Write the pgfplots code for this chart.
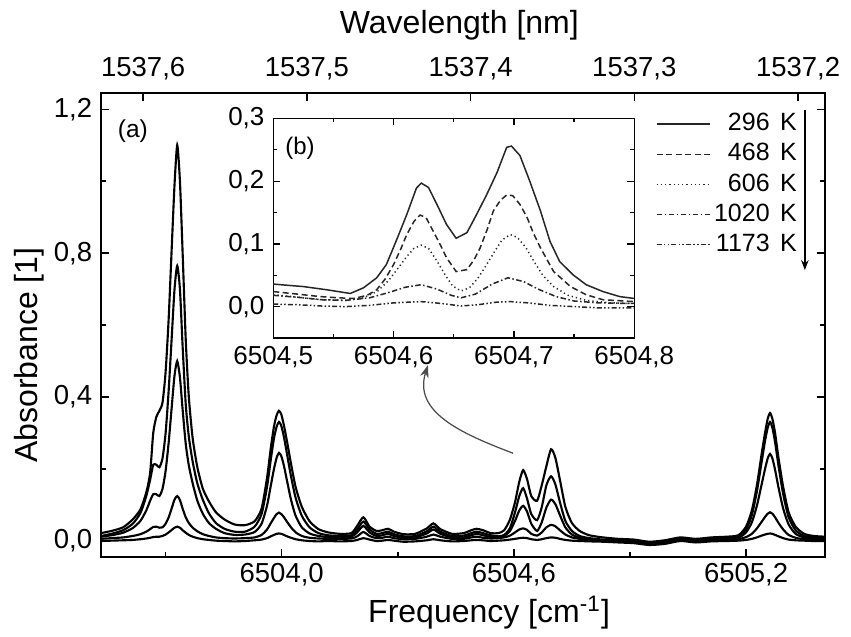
\documentclass[border=0pt]{standalone}
\usepackage{fontspec}
\setmainfont{Liberation Sans}
\usepackage{pgfplots}
\usepackage{pgfplotstable}
\pgfplotsset{compat=1.18}
\usetikzlibrary{arrows.meta}

% absorbance spectra, columns: 296 K, 468 K, 606 K, 1020 K, 1173 K
\pgfplotstableread{
nu A B C D E
6503.533 0.022 0.014 0.012 0.006 0.000
6503.560 0.028 0.020 0.016 0.008 0.001
6503.590 0.038 0.030 0.023 0.010 0.002
6503.615 0.060 0.048 0.036 0.014 0.003
6503.635 0.088 0.078 0.056 0.019 0.005
6503.650 0.135 0.125 0.085 0.026 0.007
6503.660 0.190 0.170 0.112 0.033 0.009
6503.668 0.300 0.212 0.130 0.039 0.011
6503.676 0.345 0.212 0.130 0.040 0.012
6503.684 0.362 0.205 0.125 0.037 0.012
6503.692 0.385 0.230 0.145 0.038 0.014
6503.700 0.470 0.300 0.195 0.048 0.018
6503.708 0.620 0.420 0.275 0.066 0.024
6503.716 0.820 0.570 0.375 0.092 0.031
6503.723 0.990 0.700 0.460 0.115 0.037
6503.730 1.100 0.765 0.500 0.125 0.040
6503.737 1.000 0.700 0.455 0.114 0.037
6503.744 0.800 0.540 0.365 0.090 0.030
6503.752 0.560 0.380 0.270 0.066 0.023
6503.760 0.400 0.290 0.210 0.050 0.017
6503.770 0.285 0.220 0.160 0.037 0.012
6503.782 0.205 0.160 0.112 0.027 0.008
6503.796 0.146 0.115 0.076 0.019 0.005
6503.812 0.110 0.077 0.050 0.014 0.003
6503.830 0.080 0.050 0.034 0.010 0.001
6503.852 0.060 0.034 0.022 0.008 0.000
6503.878 0.046 0.026 0.017 0.007 -0.001
6503.905 0.044 0.026 0.018 0.008 0.000
6503.930 0.055 0.040 0.025 0.010 0.002
6503.948 0.090 0.075 0.048 0.017 0.004
6503.962 0.175 0.150 0.098 0.032 0.008
6503.972 0.260 0.228 0.155 0.050 0.013
6503.980 0.318 0.285 0.200 0.064 0.017
6503.987 0.350 0.318 0.232 0.075 0.020
6503.993 0.362 0.331 0.245 0.079 0.021
6503.999 0.352 0.320 0.236 0.075 0.020
6504.006 0.320 0.288 0.208 0.066 0.017
6504.014 0.275 0.240 0.166 0.053 0.013
6504.024 0.215 0.180 0.115 0.038 0.009
6504.036 0.150 0.120 0.070 0.024 0.005
6504.052 0.095 0.070 0.038 0.014 0.002
6504.072 0.055 0.038 0.021 0.009 0.000
6504.095 0.033 0.022 0.014 0.007 -0.001
6504.120 0.024 0.016 0.011 0.006 0.000
6504.150 0.020 0.014 0.010 0.006 -0.001
6504.180 0.022 0.016 0.012 0.007 0.000
6504.195 0.042 0.032 0.024 0.013 0.003
6504.211 0.066 0.054 0.042 0.025 0.008
6504.227 0.040 0.032 0.024 0.014 0.004
6504.245 0.028 0.020 0.014 0.008 0.000
6504.260 0.030 0.022 0.016 0.009 0.001
6504.275 0.034 0.026 0.020 0.012 0.003
6504.290 0.026 0.019 0.014 0.008 0.001
6504.315 0.019 0.013 0.009 0.005 -0.002
6504.345 0.020 0.014 0.010 0.006 -0.001
6504.375 0.035 0.027 0.021 0.012 0.002
6504.392 0.049 0.040 0.032 0.018 0.005
6504.410 0.033 0.026 0.020 0.012 0.002
6504.440 0.020 0.014 0.010 0.006 -0.001
6504.470 0.022 0.015 0.010 0.006 0.000
6504.490 0.030 0.022 0.016 0.010 0.002
6504.504 0.034 0.026 0.020 0.012 0.003
6504.520 0.030 0.022 0.016 0.009 0.002
6504.540 0.022 0.016 0.011 0.007 0.000
6504.560 0.022 0.013 0.010 0.008 0.001
6504.575 0.030 0.017 0.014 0.010 0.002
6504.590 0.060 0.036 0.028 0.015 0.004
6504.603 0.108 0.080 0.056 0.024 0.006
6504.614 0.165 0.125 0.085 0.032 0.008
6504.624 0.197 0.147 0.098 0.035 0.009
6504.634 0.172 0.118 0.082 0.031 0.008
6504.645 0.125 0.075 0.048 0.020 0.005
6504.660 0.112 0.058 0.028 0.015 0.003
6504.672 0.155 0.094 0.052 0.024 0.005
6504.684 0.208 0.155 0.093 0.038 0.008
6504.696 0.255 0.180 0.115 0.045 0.010
6504.707 0.232 0.158 0.103 0.041 0.009
6504.719 0.170 0.108 0.072 0.030 0.006
6504.733 0.095 0.056 0.038 0.018 0.003
6504.750 0.050 0.028 0.018 0.010 0.001
6504.770 0.028 0.014 0.009 0.006 0.000
6504.795 0.016 0.008 0.005 0.004 -0.001
6504.830 0.010 0.004 0.002 0.001 -0.002
6504.870 0.006 0.002 0.000 -0.002 -0.004
6504.910 0.004 0.000 -0.002 -0.004 -0.006
6504.950 -0.002 -0.005 -0.007 -0.009 -0.011
6504.990 0.002 -0.002 -0.004 -0.006 -0.008
6505.030 0.010 0.006 0.004 0.002 0.000
6505.070 0.006 0.002 0.000 -0.002 -0.004
6505.110 0.010 0.006 0.004 0.002 -0.001
6505.150 0.012 0.009 0.007 0.004 0.000
6505.180 0.016 0.012 0.009 0.005 0.001
6505.200 0.040 0.032 0.024 0.011 0.003
6505.215 0.085 0.072 0.052 0.020 0.006
6505.228 0.155 0.138 0.098 0.035 0.010
6505.240 0.240 0.218 0.156 0.053 0.015
6505.249 0.300 0.278 0.200 0.067 0.018
6505.256 0.340 0.315 0.230 0.076 0.020
6505.262 0.356 0.331 0.242 0.080 0.021
6505.268 0.340 0.315 0.230 0.076 0.020
6505.275 0.300 0.275 0.198 0.066 0.017
6505.284 0.230 0.208 0.148 0.050 0.013
6505.296 0.150 0.130 0.090 0.032 0.008
6505.310 0.080 0.066 0.046 0.017 0.004
6505.328 0.040 0.030 0.020 0.009 0.002
6505.350 0.020 0.014 0.010 0.005 0.001
6505.375 0.014 0.010 0.007 0.004 0.000
6505.404 0.012 0.008 0.006 0.004 0.000
}\mainspec

% inset (b), one table per temperature
\pgfplotstableread{
x y
6504.500 0.036
6504.512 0.034
6504.525 0.032
6504.544 0.027
6504.564 0.021
6504.575 0.030
6504.586 0.046
6504.594 0.067
6504.602 0.104
6504.611 0.147
6504.619 0.189
6504.623 0.197
6504.629 0.190
6504.636 0.163
6504.644 0.131
6504.652 0.109
6504.661 0.118
6504.669 0.147
6504.677 0.177
6504.686 0.214
6504.694 0.254
6504.698 0.256
6504.705 0.241
6504.713 0.201
6504.722 0.153
6504.730 0.104
6504.738 0.072
6504.749 0.051
6504.760 0.035
6504.774 0.024
6504.788 0.016
6504.800 0.013
}\insA
\pgfplotstableread{
x y
6504.500 0.024
6504.520 0.020
6504.539 0.016
6504.555 0.014
6504.567 0.013
6504.578 0.018
6504.586 0.027
6504.593 0.044
6504.600 0.067
6504.606 0.092
6504.611 0.115
6504.617 0.136
6504.622 0.146
6504.627 0.142
6504.633 0.120
6504.639 0.098
6504.644 0.078
6504.652 0.056
6504.661 0.059
6504.667 0.075
6504.672 0.094
6504.678 0.124
6504.683 0.153
6504.689 0.170
6504.694 0.178
6504.699 0.177
6504.705 0.163
6504.711 0.142
6504.716 0.118
6504.722 0.094
6504.733 0.056
6504.747 0.032
6504.760 0.019
6504.774 0.011
6504.800 0.008
}\insB
\pgfplotstableread{
x y
6504.500 0.019
6504.520 0.015
6504.540 0.011
6504.560 0.010
6504.575 0.014
6504.587 0.025
6504.596 0.042
6504.604 0.062
6504.611 0.080
6504.617 0.093
6504.623 0.098
6504.629 0.093
6504.636 0.073
6504.643 0.050
6504.649 0.033
6504.656 0.025
6504.663 0.030
6504.670 0.045
6504.677 0.066
6504.684 0.088
6504.690 0.106
6504.697 0.115
6504.703 0.110
6504.710 0.094
6504.717 0.071
6504.724 0.050
6504.733 0.032
6504.745 0.018
6504.760 0.010
6504.780 0.006
6504.800 0.005
}\insC
\pgfplotstableread{
x y
6504.500 0.018
6504.520 0.015
6504.540 0.011
6504.560 0.010
6504.580 0.014
6504.595 0.022
6504.610 0.031
6504.623 0.035
6504.636 0.028
6504.648 0.018
6504.656 0.014
6504.668 0.020
6504.682 0.036
6504.695 0.046
6504.708 0.040
6504.720 0.028
6504.735 0.016
6504.750 0.009
6504.770 0.006
6504.800 0.005
}\insD
\pgfplotstableread{
x y
6504.500 0.004
6504.520 0.003
6504.540 0.001
6504.560 0.000
6504.580 0.002
6504.600 0.006
6504.623 0.008
6504.640 0.005
6504.656 0.001
6504.670 0.003
6504.685 0.007
6504.697 0.008
6504.712 0.006
6504.730 0.002
6504.750 0.000
6504.770 -0.002
6504.800 -0.002
}\insE

\tikzset{
  dashA/.style={dash pattern=on 2.4pt off 1.4pt},
  dotA/.style={dash pattern=on 0.5pt off 1.2pt},
  dashdotA/.style={dash pattern=on 2.2pt off 1pt on 0.6pt off 1pt},
  dashdotdotA/.style={dash pattern=on 2pt off 0.9pt on 0.6pt off 0.9pt on 0.6pt off 0.9pt},
}

\begin{document}
\begin{tikzpicture}[font=\fontsize{11}{13}\selectfont]
% main panel (a)
\begin{axis}[
  name=main, scale only axis, width=289.6pt, height=185.6pt,
  xmin=6503.533, xmax=6505.404, ymin=-0.0444, ymax=1.2453,
  axis line style={line width=0.6pt},
  every tick/.style={black, line width=0.6pt},
  major tick length=3.2pt, minor tick length=2pt,
  tick align=inside, xtick pos=left, ytick pos=both,
  xtick={6504.0,6504.6,6505.2}, xticklabels={{6504,0},{6504,6},{6505,2}},
  minor xtick={6503.7,6504.3,6504.9},
  ytick={0,0.4,0.8,1.2}, yticklabels={{0,0},{0,4},{0,8},{1,2}},
  minor ytick={0.2,0.6,1.0},
  tick label style={font=\fontsize{11}{13}\selectfont},
  xticklabel style={yshift=1pt},
  xlabel={Frequency [cm\textsuperscript{-1}]}, ylabel={Absorbance [1]},
  every axis x label/.style={at={(ticklabel cs:0.536)}, anchor=near ticklabel, yshift=3pt, font=\fontsize{12.8}{15}\selectfont},
  every axis y label/.style={at={(ticklabel cs:0.435)}, anchor=near ticklabel, rotate=90, font=\fontsize{12.8}{15}\selectfont},
  ylabel shift=-3pt,
]
\addplot[black, line width=0.85pt, smooth, tension=0.4] table[x=nu, y=A] {\mainspec};
\addplot[black, line width=0.85pt, smooth, tension=0.4] table[x=nu, y=B] {\mainspec};
\addplot[black, line width=0.85pt, smooth, tension=0.4] table[x=nu, y=C] {\mainspec};
\addplot[black, line width=0.85pt, smooth, tension=0.4] table[x=nu, y=D] {\mainspec};
\addplot[black, line width=0.85pt, smooth, tension=0.4] table[x=nu, y=E] {\mainspec};
\node[font=\fontsize{9.8}{11}\selectfont] at (rel axis cs:0.044,0.918) {(a)};
% arrow from the doublet to the inset
\draw[gray!60!black, line width=0.5pt, -{Stealth[length=5pt,width=3.5pt]}]
  (axis cs:6504.598,0.244) .. controls (axis cs:6504.46,0.30) and (axis cs:6504.34,0.36) .. (axis cs:6504.378,0.489);
% temperature arrow beside the legend
\draw[line width=0.5pt, -{Stealth[length=4pt,width=3pt]}] (axis cs:6505.352,1.197) -- (axis cs:6505.352,0.753);
\coordinate (bbsw) at (rel axis cs:-0.1395,-0.1724);
\coordinate (bbne) at (rel axis cs:1.0359,1.2004);
\end{axis}

% wavelength scale on top
\begin{axis}[
  at={(main.south west)}, anchor=south west,
  scale only axis, width=289.6pt, height=185.6pt,
  xmin=6503.533, xmax=6505.404, ymin=-0.0444, ymax=1.2453,
  axis x line*=top, axis y line=none,
  axis line style={line width=0.6pt},
  every tick/.style={black, line width=0.6pt},
  major tick length=3.2pt, tick align=inside,
  xtick={6503.642,6504.065,6504.4881,6504.9112,6505.3344},
  xticklabels={{1537,6},{1537,5},{1537,4},{1537,3},{1537,2}},
  tick label style={font=\fontsize{11}{13}\selectfont},
  xticklabel style={yshift=1.5pt},
  xlabel={Wavelength [nm]},
  every axis x label/.style={at={(ticklabel cs:0.495)}, anchor=near ticklabel, yshift=0pt, font=\fontsize{12.8}{15}\selectfont},
]
\end{axis}

% inset (b)
\begin{axis}[
  name=inset, at={(main.north west)}, anchor=north west, xshift=68.9pt, yshift=-10.2pt,
  scale only axis, width=144.4pt, height=87.8pt,
  xmin=6504.5, xmax=6504.8, ymin=-0.05, ymax=0.3,
  axis background/.style={fill=white},
  axis line style={line width=0.5pt},
  every tick/.style={black, line width=0.5pt},
  major tick length=2.8pt, minor tick length=1.6pt, tick align=inside,
  xtick={6504.5,6504.6,6504.7,6504.8}, xticklabels={{6504,5},{6504,6},{6504,7},{6504,8}},
  ytick={0,0.1,0.2,0.3}, yticklabels={{0,0},{0,1},{0,2},{0,3}},
  minor x tick num=1, minor y tick num=1,
  tick label style={font=\fontsize{10.4}{12}\selectfont},
  legend style={at={(axis description cs:1.038,1.06)}, anchor=north west, draw=none, fill=none,
    font=\fontsize{10}{11}\selectfont, row sep=1.6pt, column sep=2pt, nodes={inner sep=1pt}},
  legend cell align=left,
  legend image code/.code={\draw[#1, line width=0.5pt] (0pt,0pt) -- (21.5pt,0pt);},
]
\addplot[black!85, line width=0.6pt] table[x=x, y=y] {\insA};
\addlegendentry{\makebox[20.5pt][r]{296}\hspace{4.2pt}K}
\addplot[black!85, line width=0.6pt, dashA] table[x=x, y=y] {\insB};
\addlegendentry{\makebox[20.5pt][r]{468}\hspace{4.2pt}K}
\addplot[black!85, line width=0.6pt, dotA] table[x=x, y=y] {\insC};
\addlegendentry{\makebox[20.5pt][r]{606}\hspace{4.2pt}K}
\addplot[black!85, line width=0.6pt, dashdotA] table[x=x, y=y] {\insD};
\addlegendentry{\makebox[20.5pt][r]{1020}\hspace{4.2pt}K}
\addplot[black!85, line width=0.6pt, dashdotdotA] table[x=x, y=y] {\insE};
\addlegendentry{\makebox[20.5pt][r]{1173}\hspace{4.2pt}K}
\node[font=\fontsize{9.6}{11}\selectfont] at (rel axis cs:0.074,0.866) {(b)};
\end{axis}

\pgfresetboundingbox
\path[use as bounding box] (bbsw) rectangle (bbne);
\end{tikzpicture}
\end{document}
